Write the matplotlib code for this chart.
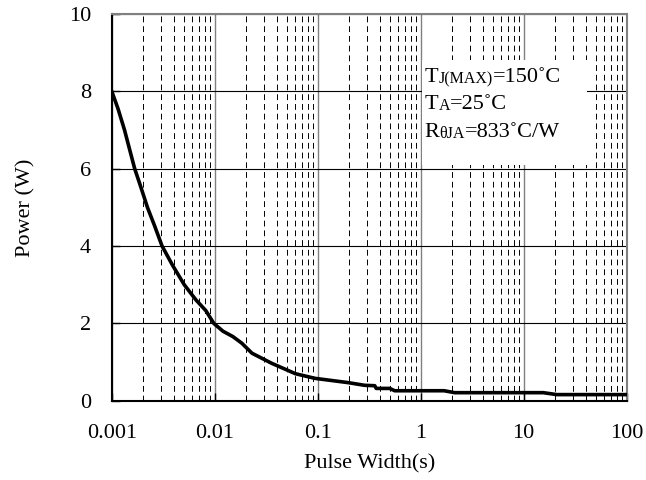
import matplotlib.pyplot as plt
from matplotlib.ticker import LogLocator, FixedLocator, FixedFormatter, NullFormatter
from matplotlib.patches import Rectangle

# pulse width (s) and peak power (W)
pulse_width = [0.001, 0.00115, 0.00133, 0.00149, 0.00167, 0.00193, 0.00222, 0.0026,
               0.00308, 0.0039, 0.00506, 0.00656, 0.0082, 0.0098, 0.0120, 0.0150,
               0.0183, 0.023, 0.0357, 0.0608, 0.0942, 0.197, 0.286, 0.358, 0.37,
               0.50, 0.56, 1.69, 2.14, 15.5, 21, 100]
power = [8.0, 7.55, 7.0, 6.5, 6.0, 5.5, 5.0, 4.53, 4.0, 3.5, 3.0, 2.61, 2.33, 2.0,
         1.8, 1.66, 1.49, 1.23, 0.97, 0.70, 0.58, 0.47, 0.40, 0.39, 0.32, 0.32,
         0.26, 0.26, 0.21, 0.21, 0.16, 0.16]

x_ticks = [0.001, 0.01, 0.1, 1, 10, 100]
x_labels = ['0.001', '0.01', '0.1', '1', '10', '100']
y_ticks = [0, 2, 4, 6, 8, 10]

plt.rcParams['font.family'] = ['Liberation Serif', 'DejaVu Serif']

fig = plt.figure(figsize=(6.46, 4.80), dpi=100)
ax = fig.add_axes([0.173, 0.165, 0.797, 0.806])

ax.set_xscale('log')
ax.set_xlim(0.001, 100)
ax.set_ylim(0, 10)

ax.xaxis.set_major_locator(FixedLocator(x_ticks))
ax.xaxis.set_major_formatter(FixedFormatter(x_labels))
ax.xaxis.set_minor_locator(LogLocator(base=10, subs=range(2, 10)))
ax.xaxis.set_minor_formatter(NullFormatter())
ax.set_yticks(y_ticks)

# grid
ax.grid(True, which='major', axis='x', color='#808080', lw=1.0)
ax.grid(True, which='major', axis='y', color='black', lw=0.8)
ax.grid(True, which='minor', axis='x', color='black', lw=0.7, ls=(0, (6, 4)))
ax.set_axisbelow(True)

for side in ['left', 'bottom']:
    ax.spines[side].set_color('black')
    ax.spines[side].set_linewidth(1.5)
for side in ['top', 'right']:
    ax.spines[side].set_color('#808080')
    ax.spines[side].set_linewidth(1.5)

ax.tick_params(which='major', direction='in', length=6, width=1, labelsize=16)
ax.tick_params(axis='x', which='major', pad=17)
ax.tick_params(axis='y', which='major', pad=15)
ax.tick_params(which='minor', length=0)

ax.plot(pulse_width, power, color='black', lw=2.6, zorder=3)

# white box for the note
ax.add_patch(Rectangle((0.602, 0.61), 0.322, 0.27, transform=ax.transAxes,
                       facecolor='white', edgecolor='none', zorder=2))

notes = [('T', 'J(MAX)', '=150˚C', 0.811),
         ('T', 'A', '=25˚C', 0.742),
         ('R', 'θJA', '=833˚C/W', 0.669)]
for main, sub, rest, ypos in notes:
    t1 = ax.text(0.608, ypos, main, transform=ax.transAxes, fontsize=16,
                 va='bottom', zorder=4)
    t2 = ax.annotate(sub, xy=(1, 0), xycoords=t1, fontsize=11.5,
                     va='bottom', zorder=4)
    ax.annotate(rest, xy=(1, 0), xycoords=t2, fontsize=16,
                va='bottom', zorder=4)

ax.set_xlabel('Pulse Width(s)', fontsize=16, labelpad=8)
ax.set_ylabel('Power (W)', fontsize=16, labelpad=24)

fig.savefig('out.png', dpi=100)
